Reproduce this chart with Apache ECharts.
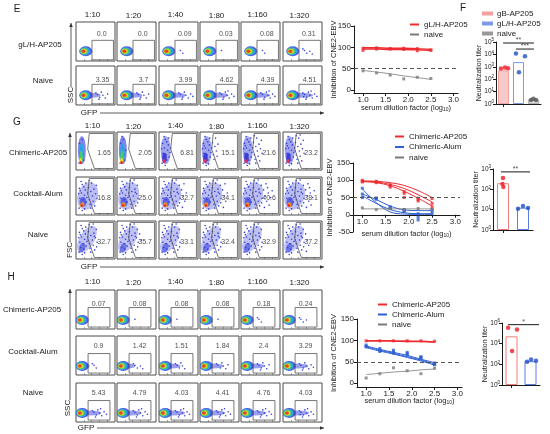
<!DOCTYPE html>
<html>
<head>
<meta charset="utf-8">
<title>CNE2-EBV neutralization</title>
<script src="https://cdn.jsdelivr.net/npm/echarts@6.0.0/dist/echarts.min.js"></script>
<style>
  html, body { margin: 0; padding: 0; background: #fff; }
  #fig { width: 550px; height: 434px; }
</style>
</head>
<body>
<div id="fig"></div>
<script>
// dilution series shared by every panel
const dilutions = ['1:10', '1:20', '1:40', '1:80', '1:160', '1:320'];
const dilutionLog = [1.0, 1.3, 1.6, 1.9, 2.2, 2.5];

// E: % GFP+ cells (SSC vs GFP)
const ePctGLH = ['0.0', '0.0', '0.09', '0.03', '0.08', '0.31'];
const ePctNaive = ['3.35', '3.7', '3.99', '4.62', '4.39', '4.51'];
// how far the GFP+ tail reaches (box %) and how many stray dots sit in the gate
const eTailGLH = [0, 0, 0, 0, 0, 0];
const eDotsGLH = [0, 0, 2, 1, 2, 5];
const eTailNaive = [58, 60, 64, 68, 70, 72];
const eDotsNaive = [8, 8, 9, 10, 10, 11];

// G: % GFP+ cells (FSC vs GFP)
const gPctChimeric = ['1.65', '2.05', '6.81', '15.1', '21.6', '23.2'];
const gPctCocktail = ['16.8', '25.0', '32.7', '34.1', '40.6', '38.1'];
const gPctNaive = ['32.7', '35.7', '33.1', '32.4', '32.9', '37.2'];
const gDotsChimeric = [8, 10, 18, 28, 34, 36];
const gDotsCocktail = [34, 38, 44, 44, 48, 48];
const gDotsNaive = [38, 40, 38, 38, 38, 42];

// H: % GFP+ cells (SSC vs GFP)
const hPctChimeric = ['0.07', '0.08', '0.08', '0.08', '0.18', '0.24'];
const hPctCocktail = ['0.9', '1.42', '1.51', '1.84', '2.4', '3.29'];
const hPctNaive = ['5.43', '4.79', '4.03', '4.41', '4.76', '4.03'];
const hTailChimeric = [0, 0, 0, 0, 0, 0];
const hDotsChimeric = [0, 1, 1, 1, 3, 4];
const hTailCocktail = [30, 42, 50, 55, 55, 60];
const hDotsCocktail = [3, 5, 6, 7, 8, 9];
const hTailNaive = [60, 58, 62, 60, 60, 62];
const hDotsNaive = [10, 10, 10, 10, 10, 11];

// inhibition of CNE2-EBV (%), replicates and fitted curves
const eGLH1 = [98, 99, 97, 98, 97, 94];
const eGLH2 = [93, 96, 96, 95, 92, 93];
const eGLHFitHi = [99, 99, 98, 98, 97, 95];
const eGLHFitLo = [96, 96, 95, 95, 94, 93];
const eNaive = [45, 40, 35, 26, 30, 27];
const eNaiveFit = [46, 42, 38, 33, 29, 25];

const gChim1 = [100, 97, 87, 67, 48, 47];
const gChim2 = [97, 95, 80, 50, 40, 33];
const gChim3 = [95, 93, 84, 62, 44, 23];
const gChimFit1 = [98, 97, 93, 85, 70, 50];
const gChimFit2 = [97, 95, 88, 76, 58, 37];
const gChimFit3 = [96, 93, 84, 68, 48, 25];
const gAlum1 = [77, 48, 23, 15, 3, 15];
const gAlum2 = [60, 48, 18, 10, -7, 10];
const gAlum3 = [50, 45, 21, 12, -15, 3];
const gAlumFit1 = [75, 35, 8, 2, 1, 1];
const gAlumFit2 = [60, 44, 25, 14, 12, 12];
const gAlumFit3 = [55, 33, 15, 6, 3, 3];
const gNaive = [20, 15, 18, 15, 18, 15];
const gNaiveFit = [17, 17, 17, 17, 17, 17];

const hChim = [99, 99, 99, 99, 99, 98];
const hChimFit = [99, 99, 98.5, 98, 97.5, 96];
const hAlum1 = [89, 81, 77, 72, 62, 47];
const hAlum2 = [85, 77, 70, 66, 58, 43];
const hAlum3 = [86, 74, 73, 69, 60, 45];
const hAlumFit1 = [87, 79, 72, 65, 56, 48];
const hAlumFit2 = [85, 77, 70, 62, 54, 45];
const hAlumFit3 = [83, 75, 68, 60, 52, 42];
const hNaive = [12, 22, 36, 29, 22, 35];
const hNaiveFit = [20, 23, 26, 28, 31, 33];

// neutralization titers (one dot per mouse), bar = group mean
const fGroups = ['gB-AP205', 'gL/H-AP205', 'naive'];
const fTiterGB = [740, 890, 760];
const fTiterGLH = [12000, 7000, 370];
const fTiterNaive = [2.1, 2.7, 2.1];
const fMeanTiter = [520, 2400, 2.2];
const fJitter = [[0.33, 0.6, 0.8], [1.33, 1.93, 1.53], [2.33, 2.49, 2.67]];
const fSig = [[0.47, 2.53, 83000, '**'], [1.33, 2.53, 27000, '***']];

const ghGroups = ['Chimeric-AP205', 'Chimeric-Alum'];
const gTiterChim = [360, 185, 130];
const gTiterAlum = [11, 15, 12];
const gMeanTiter = [200, 12.5];
const gJitter = [[0.5, 0.47, 0.52], [1.25, 1.5, 1.75]];
const gSig = [[0.4, 1.85, 720, '**']];

const hTiterChim = [350000, 230000, 2000];
const hTiterAlum = [174, 295, 218];
const hMeanTiter = [51000, 200];
const hJitter = [[0.32, 0.79, 0.53], [1.32, 1.53, 1.79]];
const hSig = [[0.32, 1.95, 690000, '*']];

// ---- look of the figure ----
const FONT = 'Arial, "Liberation Sans", Helvetica, sans-serif';
const INK = '#1a1a1a';
const RED = '#ef2b30';
const BLUE = '#2d5fd2';
const GRAY = '#7a7a7a';
const DOT = '#2b33d6';
const BOX_W = 39;
const colLeft = [76, 117, 159, 200, 241, 283];

const grids = [];
const xAxes = [];
const yAxes = [];
const series = [];
const graphics = [];

// gates in box units (0-100, y up)
const eLook = { blob: [23, 25], gate: [[41, 3], [96, 3], [96, 53], [41, 53], [41, 3]] };
const hLook = { blob: [14, 23], gate: [[31, 5], [87, 5], [87, 55], [31, 55], [31, 5]] };
const gGate = [[34, 96], [96, 96], [96, 4], [47, 4], [30, 55], [34, 96]];

// jet-coloured density blob, outer to inner
const blobLayers = [
  { dx: 2, w: 13, h: 10, c: '#2a35d8' },
  { dx: 0, w: 10.5, h: 8, c: '#1fb6ea' },
  { dx: -2, w: 8, h: 6.5, c: '#56d15c' },
  { dx: -3, w: 6, h: 5, c: '#f2e21b' },
  { dx: -4, w: 4, h: 3.4, c: '#ec2222' }
];
const tailDots = [
  [32, 2], [38, -5], [28, 6], [46, 0], [52, -7], [42, 8], [58, 3], [36, -10],
  [64, -3], [49, 11], [30, -4], [55, -12], [44, -2], [61, 7]
];
const cloudDots = [
  [8, 18], [12, 30], [10, 44], [14, 58], [9, 70], [16, 80], [20, 26], [18, 40], [22, 52], [13, 88],
  [24, 66], [26, 34], [20, 74], [28, 46], [7, 56], [16, 12], [25, 84], [30, 58], [11, 64], [22, 16],
  [34, 40], [38, 62], [32, 72], [42, 50], [36, 28], [46, 68], [40, 84], [44, 36], [50, 56], [34, 90],
  [48, 24], [52, 78], [38, 18], [54, 44], [44, 92], [31, 50], [47, 60], [53, 32],
  [58, 66], [62, 50], [60, 20], [66, 36], [64, 82], [70, 58], [72, 26], [76, 46], [68, 72], [80, 64]
];
const fscLook = {
  strong: {
    cloud: [{ x: 15, y: 52, w: 8, h: 28, c: '#2c36d8', o: 0.6 }],
    core: [{ x: 14, y: 45, w: 4.5, h: 20, c: '#1fa8e8', o: 0.85 }, { x: 13, y: 35, w: 3.5, h: 12, c: '#47cc6b' },
           { x: 12, y: 24, w: 3, h: 6, c: '#efe01c' }, { x: 12, y: 20, w: 2.5, h: 3, c: '#ea2323' }]
  },
  weak: {
    cloud: [{ x: 17, y: 52, w: 10, h: 28, c: '#2c36d8', o: 0.45 }],
    core: [{ x: 14, y: 32, w: 4.5, h: 10, c: '#3a3fd8' }, { x: 13, y: 24, w: 3.5, h: 4, c: '#d8306a' }]
  },
  cocktail: {
    cloud: [{ x: 30, y: 50, w: 20, h: 28, r: -20, c: '#2c36d8', o: 0.32 }],
    core: [{ x: 18, y: 34, w: 7, h: 10, c: '#2c36d8', o: 0.65 }, { x: 16, y: 27, w: 4.5, h: 5, c: '#f0902a' },
           { x: 15, y: 25, w: 2.5, h: 2.5, c: '#ea2323' }]
  },
  naive: {
    cloud: [{ x: 28, y: 52, w: 15, h: 30, r: -30, c: '#2c36d8', o: 0.3 }],
    core: [{ x: 16, y: 30, w: 6, h: 10, r: -20, c: '#2c36d8', o: 0.55 }]
  }
};

function flowBox(left, top, h) {
  const gi = grids.length;
  grids.push({ left, top, width: BOX_W, height: h, show: true, borderColor: '#4d4d4d', borderWidth: 1,
    backgroundColor: '#fff', outerBoundsMode: 'none' });
  const xi = xAxes.length;
  xAxes.push({ type: 'value', gridIndex: gi, min: 0, max: 100, axisLine: { show: false },
    axisLabel: { show: false }, splitLine: { show: false },
    axisTick: { show: true, inside: true, length: 2, customValues: [20, 40, 60, 80], lineStyle: { color: '#666', width: 0.6 } } });
  const yi = yAxes.length;
  yAxes.push({ type: 'value', gridIndex: gi, min: 0, max: 100, show: false });
  return { xi, yi };
}

function pctLabel(pos, text) {
  return { value: pos, symbolSize: 1, itemStyle: { color: 'rgba(0,0,0,0)' },
    label: { show: true, position: 'inside', formatter: text, fontSize: 7, color: INK, fontFamily: FONT } };
}

function ellipse(l) {
  return { value: [l.x, l.y], symbolSize: [l.w, l.h], symbolRotate: l.r || 0,
    itemStyle: { color: l.c, opacity: l.o == null ? 1 : l.o } };
}

function dot(v) {
  return { value: v, symbolSize: 1.6, itemStyle: { color: DOT, opacity: 0.95 } };
}

function sscPlot(left, top, h, look, labelPos, pct, tail, dots) {
  const ax = flowBox(left, top, h);
  const bx = look.blob[0];
  const by = look.blob[1];
  const items = [];
  if (tail > 0) {
    items.push({ value: [(bx + tail) / 2, by], symbolSize: [(tail - bx) * BOX_W / 100 + 4, 5],
      itemStyle: { color: '#3440dd', opacity: 0.5 } });
  }
  tailDots.slice(0, dots).forEach(d => items.push(dot([bx + d[0], by + d[1]])));
  blobLayers.forEach(l => {
    items.push({ value: [bx + l.dx, by], symbolSize: [l.w, l.h], itemStyle: { color: l.c } });
  });
  items.push(pctLabel(labelPos, pct));
  series.push({ type: 'scatter', xAxisIndex: ax.xi, yAxisIndex: ax.yi, data: items, silent: true, z: 2 });
  series.push({ type: 'line', xAxisIndex: ax.xi, yAxisIndex: ax.yi, data: look.gate, symbol: 'none',
    silent: true, lineStyle: { color: '#555', width: 0.8 }, z: 3 });
}

function fscPlot(left, top, h, look, pct, dots) {
  const ax = flowBox(left, top, h);
  const items = look.cloud.map(ellipse);
  cloudDots.slice(0, dots).forEach(d => items.push(dot(d)));
  look.core.forEach(l => items.push(ellipse(l)));
  items.push(pctLabel([72, 44], pct));
  series.push({ type: 'scatter', xAxisIndex: ax.xi, yAxisIndex: ax.yi, data: items, silent: true, z: 2 });
  series.push({ type: 'line', xAxisIndex: ax.xi, yAxisIndex: ax.yi, data: gGate, symbol: 'none',
    silent: true, lineStyle: { color: '#555', width: 0.8 }, z: 3 });
}

// ---- inhibition curves ----
// xLift moves the x axis up from the grid bottom (G crosses at 0)
function inhibitionChart(box, yMin, yTicks, xLift, gapX, gapY) {
  const gi = grids.length;
  grids.push({ left: box[0], top: box[1], width: box[2], height: box[3], outerBoundsMode: 'none' });
  const xTicks = [1, 1.5, 2, 2.5, 3];
  const xi = xAxes.length;
  xAxes.push({
    type: 'value', gridIndex: gi, min: 0.8, max: 3.1, offset: -xLift,
    axisLine: { show: true, onZero: false, lineStyle: { color: INK, width: 1 } },
    axisTick: { show: true, customValues: xTicks, length: 3, lineStyle: { color: INK } },
    axisLabel: { customValues: xTicks, formatter: v => v.toFixed(1), fontSize: 8, margin: 3, color: INK, fontFamily: FONT },
    splitLine: { show: false },
    name: 'serum dilution factor (log{sub|10})', nameLocation: 'middle', nameGap: gapX, nameMoveOverlap: false,
    nameTextStyle: { fontSize: 7.5, color: INK, fontFamily: FONT,
      rich: { sub: { fontSize: 5, verticalAlign: 'bottom', color: INK, fontFamily: FONT } } }
  });
  const yi = yAxes.length;
  yAxes.push({
    type: 'value', gridIndex: gi, min: yMin, max: 150,
    axisLine: { show: true, onZero: false, lineStyle: { color: INK, width: 1 } },
    axisTick: { show: true, customValues: yTicks, length: 3, lineStyle: { color: INK } },
    axisLabel: { customValues: yTicks, fontSize: 8, margin: 3, color: INK, fontFamily: FONT },
    splitLine: { show: false },
    name: 'Inhibition of CNE2-EBV', nameLocation: 'middle', nameGap: gapY, nameMoveOverlap: false,
    nameTextStyle: { fontSize: 7.5, color: INK, fontFamily: FONT }
  });
  return { xi, yi };
}

function pts(arr) {
  return dilutionLog.map((x, i) => [x, arr[i]]);
}

function addPoints(ax, arr, color) {
  series.push({ type: 'scatter', xAxisIndex: ax.xi, yAxisIndex: ax.yi, data: pts(arr), symbol: 'rect',
    symbolSize: 3, itemStyle: { color }, silent: true, z: 4 });
}

function addFit(ax, arr, color, name, width, cutoff) {
  const s = { type: 'line', name, xAxisIndex: ax.xi, yAxisIndex: ax.yi, data: pts(arr), symbol: 'none',
    smooth: 0.35, lineStyle: { color, width }, itemStyle: { color }, silent: true, z: 3 };
  if (cutoff) {
    s.markLine = { silent: true, symbol: ['none', 'none'], label: { show: false },
      lineStyle: { color: '#555', width: 1, type: [4, 3] }, data: [{ yAxis: 50 }] };
  }
  series.push(s);
}

// ---- titer bars ----
function titerChart(box, groups, yMax, yTicks, gapY) {
  const gi = grids.length;
  grids.push({ left: box[0], top: box[1], width: box[2], height: box[3], outerBoundsMode: 'none' });
  const xi = xAxes.length;
  xAxes.push({ type: 'category', gridIndex: gi, data: groups, boundaryGap: true,
    axisLine: { show: true, lineStyle: { color: INK } },
    axisTick: { show: true, alignWithLabel: true, length: 3, lineStyle: { color: INK } },
    axisLabel: { show: false } });
  const xv = xAxes.length;
  xAxes.push({ type: 'value', gridIndex: gi, min: 0, max: groups.length, show: false });
  const yi = yAxes.length;
  yAxes.push({
    type: 'log', logBase: 10, gridIndex: gi, min: 1, max: yMax,
    axisLine: { show: true, lineStyle: { color: INK } },
    axisTick: { show: true, customValues: yTicks, length: 3, lineStyle: { color: INK } },
    minorTick: { show: false }, splitLine: { show: false },
    axisLabel: { customValues: yTicks, margin: 2, color: INK, fontFamily: FONT,
      formatter: v => '{b|10}{s|' + Math.round(Math.log10(v)) + '}',
      rich: { b: { fontSize: 6.5, fontFamily: FONT, color: INK },
              s: { fontSize: 4.5, fontFamily: FONT, color: INK, padding: [0, 0, 4, 0] } } },
    name: 'Neutralization titer', nameLocation: 'middle', nameGap: gapY, nameMoveOverlap: false,
    nameTextStyle: { fontSize: 7, color: INK, fontFamily: FONT }
  });
  return { xi, xv, yi, n: groups.length };
}

function addBar(ax, cat, value, name, style, width) {
  const data = [];
  for (let i = 0; i < ax.n; i++) data.push(i === cat ? value : '-');
  series.push({ type: 'bar', name, xAxisIndex: ax.xi, yAxisIndex: ax.yi, data, barWidth: width,
    barGap: '-100%', itemStyle: style, silent: true, z: 2 });
}

function addDots(ax, xs, ys, color) {
  series.push({ type: 'scatter', xAxisIndex: ax.xv, yAxisIndex: ax.yi, data: xs.map((x, i) => [x, ys[i]]),
    symbolSize: 4.5, itemStyle: { color }, silent: true, z: 4 });
}

function addSig(ax, sig) {
  sig.forEach(s => {
    series.push({ type: 'line', xAxisIndex: ax.xv, yAxisIndex: ax.yi, data: [[s[0], s[2]], [s[1], s[2]]],
      symbol: 'none', lineStyle: { color: INK, width: 1 }, silent: true, z: 5 });
    series.push({ type: 'scatter', xAxisIndex: ax.xv, yAxisIndex: ax.yi, data: [[(s[0] + s[1]) / 2, s[2]]],
      symbolSize: 1, itemStyle: { color: 'rgba(0,0,0,0)' }, silent: true, z: 5,
      label: { show: true, position: 'top', distance: -1, formatter: s[3], fontSize: 7, color: INK, fontFamily: FONT } });
  });
}

// ---- free text and arrows ----
function text(x, y, str, size, extra) {
  graphics.push(Object.assign({ type: 'text', x, y, silent: true,
    style: { text: str, fontSize: size, fontFamily: FONT, fill: INK, align: 'center', verticalAlign: 'middle' } }, extra || {}));
}

function arrow(x1, y1, x2, y2) {
  graphics.push({ type: 'line', silent: true, shape: { x1, y1, x2, y2 }, style: { stroke: '#333', lineWidth: 0.8 } });
  const a = Math.atan2(y2 - y1, x2 - x1);
  const bx = x2 - 4 * Math.cos(a);
  const by = y2 - 4 * Math.sin(a);
  const px = -Math.sin(a) * 1.8;
  const py = Math.cos(a) * 1.8;
  graphics.push({ type: 'polygon', silent: true, shape: { points: [[x2, y2], [bx + px, by + py], [bx - px, by - py]] },
    style: { fill: '#333' } });
}

function columnLabels(y) {
  dilutions.forEach((d, k) => text(colLeft[k] + 16.5, y + (k % 2), d, 8));
}

// ===== panel E =====
text(17, 9, 'E', 10);
columnLabels(15);
[[ePctGLH, eTailGLH, eDotsGLH, 22, [66, 68]], [ePctNaive, eTailNaive, eDotsNaive, 66, [68, 64]]].forEach(r => {
  dilutions.forEach((d, k) => sscPlot(colLeft[k], r[3], 39, eLook, r[4], r[0][k], r[1][k], r[2][k]));
});
text(40, 45, 'gL/H-AP205', 8);
text(43, 81, 'Naive', 8);
arrow(71, 87, 71, 23);
arrow(100, 113, 324, 113);
text(71, 95, 'SSC', 8, { rotation: Math.PI / 2 });
text(89, 113, 'GFP', 8);

const eAx = inhibitionChart([354, 26, 104, 67], -7, [0, 50, 100, 150], 0, 11, 16);
addFit(eAx, eGLHFitHi, RED, 'E:gL/H-AP205', 1.4);
addFit(eAx, eGLHFitLo, RED, 'E:gL/H-AP205 fit', 1.4);
addFit(eAx, eNaiveFit, GRAY, 'E:naive', 0.8, true);
addPoints(eAx, eGLH1, RED);
addPoints(eAx, eGLH2, RED);
addPoints(eAx, eNaive, GRAY);

// ===== panel F =====
text(463, 8, 'F', 10);
const fAx = titerChart([496, 42, 45, 62], fGroups, 100000, [1, 10, 100, 1000, 10000, 100000], 13);
addBar(fAx, 0, fMeanTiter[0], 'F:gB-AP205', { color: '#f7caca', borderColor: '#f3a0a0', borderWidth: 1 }, 11);
addBar(fAx, 1, fMeanTiter[1], 'F:gL/H-AP205', { color: '#fff', borderColor: '#7c9ae8', borderWidth: 1 }, 11);
addBar(fAx, 2, fMeanTiter[2], 'F:naive', { color: '#ddd', borderColor: '#999', borderWidth: 0.8 }, 11);
addDots(fAx, fJitter[0], fTiterGB, '#ec1c24');
addDots(fAx, fJitter[1], fTiterGLH, '#1f4fc9');
addDots(fAx, fJitter[2], fTiterNaive, '#555');
addSig(fAx, fSig);

// ===== panel G =====
text(17, 122, 'G', 10);
columnLabels(126);
dilutions.forEach((d, k) => {
  fscPlot(colLeft[k], 132, 38, k < 2 ? fscLook.strong : fscLook.weak, gPctChimeric[k], gDotsChimeric[k]);
  fscPlot(colLeft[k], 177, 38, fscLook.cocktail, gPctCocktail[k], gDotsCocktail[k]);
  fscPlot(colLeft[k], 221, 38, fscLook.naive, gPctNaive[k], gDotsNaive[k]);
});
text(38, 153, 'Chimeric-AP205', 8);
text(38, 194, 'Cocktail-Alum', 8);
text(38, 235, 'Naive', 8);
arrow(70, 242, 70, 133);
arrow(100, 267, 324, 267);
text(70, 250, 'FSC', 8, { rotation: Math.PI / 2 });
text(89, 267, 'GFP', 8);

// x axis crosses at 0: lift it by 50/200 of the plot height
const gAx = inhibitionChart([353, 163, 107, 69], -50, [-50, 0, 50, 100, 150], 69 * 50 / 200, 15, 19);
addFit(gAx, gChimFit1, RED, 'G:Chimeric-AP205', 1);
addFit(gAx, gChimFit2, RED, 'G:Chimeric-AP205 b', 1);
addFit(gAx, gChimFit3, RED, 'G:Chimeric-AP205 c', 1);
addFit(gAx, gAlumFit1, BLUE, 'G:Chimeric-Alum', 1);
addFit(gAx, gAlumFit2, BLUE, 'G:Chimeric-Alum b', 1);
addFit(gAx, gAlumFit3, BLUE, 'G:Chimeric-Alum c', 1);
addFit(gAx, gNaiveFit, GRAY, 'G:naive', 0.8, true);
[gChim1, gChim2, gChim3].forEach(a => addPoints(gAx, a, RED));
[gAlum1, gAlum2, gAlum3].forEach(a => addPoints(gAx, a, BLUE));
addPoints(gAx, gNaive, GRAY);

const gbAx = titerChart([493, 169, 40, 61], ghGroups, 1000, [1, 10, 100, 1000], 13);
addBar(gbAx, 0, gMeanTiter[0], 'G:bar-AP205', { color: '#fff', borderColor: '#f07c7c', borderWidth: 1 }, 12);
addBar(gbAx, 1, gMeanTiter[1], 'G:bar-Alum', { color: '#fff', borderColor: '#5a7fe0', borderWidth: 1 }, 12);
addDots(gbAx, gJitter[0], gTiterChim, '#ec1c24');
addDots(gbAx, gJitter[1], gTiterAlum, '#1f4fc9');
addSig(gbAx, gSig);

// ===== panel H =====
text(11, 277, 'H', 10);
columnLabels(282);
dilutions.forEach((d, k) => {
  sscPlot(colLeft[k], 290, 39, hLook, [58, 63], hPctChimeric[k], hTailChimeric[k], hDotsChimeric[k]);
  sscPlot(colLeft[k], 336, 39, hLook, [58, 73], hPctCocktail[k], hTailCocktail[k], hDotsCocktail[k]);
  sscPlot(colLeft[k], 383, 39, hLook, [58, 73], hPctNaive[k], hTailNaive[k], hDotsNaive[k]);
});
text(32, 310, 'Chimeric-AP205', 8);
text(33, 352, 'Cocktail-Alum', 8);
text(33, 393, 'Naive', 8);
arrow(70, 400, 70, 289);
arrow(97, 428, 324, 428);
text(68, 408, 'SSC', 8, { rotation: Math.PI / 2 });
text(86, 428, 'GFP', 8);

const hAx = inhibitionChart([357, 319, 105, 68], -9, [0, 50, 100, 150], 0, 10, 19);
addFit(hAx, hChimFit, RED, 'H:Chimeric-AP205', 1.8);
addFit(hAx, hAlumFit1, BLUE, 'H:Chimeric-Alum', 1);
addFit(hAx, hAlumFit2, BLUE, 'H:Chimeric-Alum b', 1);
addFit(hAx, hAlumFit3, BLUE, 'H:Chimeric-Alum c', 1);
addFit(hAx, hNaiveFit, GRAY, 'H:naive', 0.8, true);
addPoints(hAx, hChim, RED);
[hAlum1, hAlum2, hAlum3].forEach(a => addPoints(hAx, a, BLUE));
addPoints(hAx, hNaive, GRAY);

const hbAx = titerChart([502, 323, 38, 62], ghGroups, 1000000, [1, 100, 10000, 1000000], 13);
addBar(hbAx, 0, hMeanTiter[0], 'H:bar-AP205', { color: '#fff', borderColor: '#f07c7c', borderWidth: 1 }, 12);
addBar(hbAx, 1, hMeanTiter[1], 'H:bar-Alum', { color: '#fff', borderColor: '#5a7fe0', borderWidth: 1 }, 12);
addDots(hbAx, hJitter[0], hTiterChim, '#ec1c24');
addDots(hbAx, hJitter[1], hTiterAlum, '#1f4fc9');
addSig(hbAx, hSig);

// ---- legends ----
const legendBase = {
  orient: 'vertical', icon: 'rect', itemWidth: 9, itemHeight: 2, itemGap: 1, padding: 0,
  selectedMode: false, formatter: n => n.slice(2),
  textStyle: { fontSize: 8, color: INK, fontFamily: FONT, lineHeight: 9 }
};
const legends = [
  { left: 410, top: 20, data: ['E:gL/H-AP205', 'E:naive'] },
  { left: 482, top: 9, data: [{ name: 'F:gB-AP205', itemStyle: { color: '#f4a4a4' } },
                              { name: 'F:gL/H-AP205', itemStyle: { color: '#93aeee' } },
                              { name: 'F:naive', itemStyle: { color: '#999' } }] },
  { left: 395, top: 132, itemGap: 1.5, data: ['G:Chimeric-AP205', 'G:Chimeric-Alum', 'G:naive'] },
  { left: 378, top: 300, data: ['H:Chimeric-AP205', 'H:Chimeric-Alum', 'H:naive'] }
].map(l => Object.assign({}, legendBase, l));

const chart = echarts.init(document.getElementById('fig'), null, { renderer: 'canvas' });
chart.setOption({
  animation: false,
  backgroundColor: '#fff',
  textStyle: { fontFamily: FONT },
  grid: grids,
  xAxis: xAxes,
  yAxis: yAxes,
  legend: legends,
  series: series,
  graphic: graphics
});
</script>
</body>
</html>
